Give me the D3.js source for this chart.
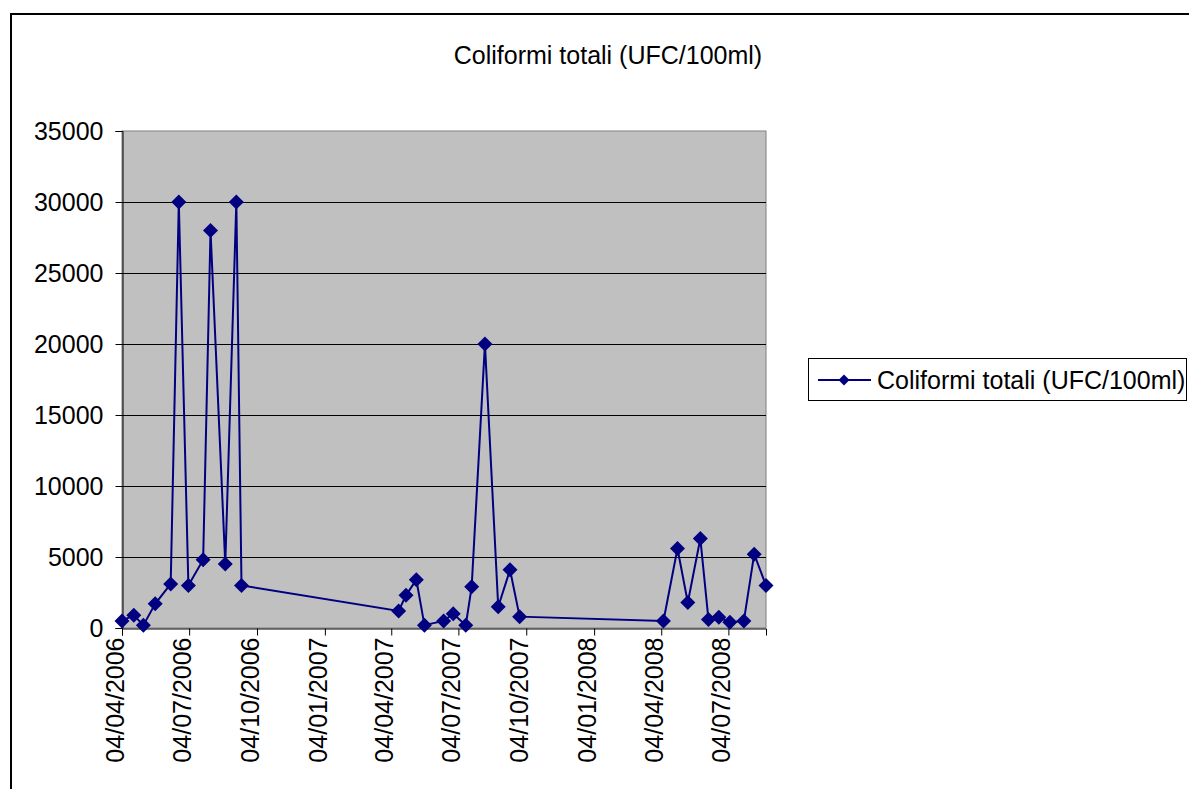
<!DOCTYPE html>
<html><head><meta charset="utf-8">
<script src="https://cdn.jsdelivr.net/npm/d3@7"></script>
<style>body{margin:0;background:#fff;} svg{display:block;font-family:"Liberation Sans",Arial,sans-serif;}</style>
</head><body>
<svg id="c" width="1189" height="789"></svg>
<script>
const seriesName = "Coliformi totali (UFC/100ml)";
const dates = ["2006-04-04","2006-04-20","2006-05-03","2006-05-19","2006-06-09","2006-06-20","2006-07-03","2006-07-23","2006-08-02","2006-08-22","2006-09-06","2006-09-13",
"2007-04-14","2007-04-24","2007-05-08","2007-05-19","2007-06-14","2007-06-27","2007-07-14","2007-07-22","2007-08-09","2007-08-27","2007-09-12","2007-09-25",
"2008-04-07","2008-04-26","2008-05-10","2008-05-27","2008-06-07","2008-06-21","2008-07-06","2008-07-25","2008-08-08","2008-08-24"];
const values = [500,900,200,1700,3100,30000,3000,4800,28000,4500,30000,3000,
1200,2300,3400,200,500,1000,200,2900,20000,1500,4100,800,
500,5600,1800,6300,600,750,400,500,5200,3000];
const xTickLabels = ["04/04/2006","04/07/2006","04/10/2006","04/01/2007","04/04/2007","04/07/2007","04/10/2007","04/01/2008","04/04/2008","04/07/2008"];
const yTicks = [0,5000,10000,15000,20000,25000,30000,35000];

const parseISO = d3.timeParse("%Y-%m-%d");
const parseTick = d3.timeParse("%d/%m/%Y");
const data = dates.map((d,i)=>({date:parseISO(d), value:values[i]}));

const svg = d3.select("#c");
const L=122, R=766, T=131, B=628;
const FS = 25;
const x = d3.scaleTime().domain(d3.extent(data,d=>d.date)).range([L,R]);
const y = d3.scaleLinear().domain([0,35000]).range([B,T]);

// outer frame
svg.append("rect").attr("x",11).attr("y",14).attr("width",1200).attr("height",800)
  .attr("fill","none").attr("stroke","#000").attr("stroke-width",2);

// plot bg
svg.append("rect").attr("x",L).attr("y",T).attr("width",R-L).attr("height",B-T)
  .attr("fill","#c0c0c0").attr("stroke","#808080").attr("stroke-width",1);

// gridlines
svg.append("g").selectAll("line").data(yTicks.filter(v=>v>0 && v<35000)).join("line")
  .attr("x1",L).attr("x2",R).attr("y1",d=>Math.round(y(d))+0.5).attr("y2",d=>Math.round(y(d))+0.5)
  .attr("stroke","#000").attr("stroke-width",1);

// y axis
const yAxis = d3.axisLeft(y).tickValues(yTicks).tickSize(7).tickPadding(12).tickFormat(d3.format("d"));
const gy = svg.append("g").attr("transform",`translate(${L+0.5},0)`).call(yAxis);
gy.select(".domain").attr("stroke","#000");
gy.selectAll("text").attr("font-size",FS).attr("fill","#000").attr("font-family","Liberation Sans, Arial, sans-serif");

// x axis
const xAxis = d3.axisBottom(x).tickValues(xTickLabels.map(parseTick)).tickSize(7).tickFormat(d3.timeFormat("%d/%m/%Y"));
const gx = svg.append("g").attr("transform",`translate(0,${B+0.5})`).call(xAxis);
gx.select(".domain").attr("stroke","#000");
gx.selectAll("text").attr("font-size",FS).attr("fill","#000").attr("font-family","Liberation Sans, Arial, sans-serif")
  .attr("text-anchor","end").attr("transform","rotate(-90)").attr("x",-9).attr("y",0).attr("dy","0.06em").attr("dx",0);

// line
const navy="#000080";
svg.append("path").datum(data).attr("fill","none").attr("stroke",navy).attr("stroke-width",2)
  .attr("d",d3.line().x(d=>x(d.date)).y(d=>y(d.value)));
const diamond = "M0,-7.5L7.5,0L0,7.5L-7.5,0Z";
svg.append("g").selectAll("path").data(data).join("path")
  .attr("transform",d=>`translate(${x(d.date)},${y(d.value)})`).attr("d",diamond).attr("fill",navy);

// title
svg.append("text").attr("x",608).attr("y",64).attr("text-anchor","middle").attr("font-size",FS).text(seriesName);

// legend
const lg = svg.append("g");
lg.append("rect").attr("x",808.5).attr("y",358.5).attr("width",378).attr("height",42).attr("fill","#fff").attr("stroke","#000").attr("stroke-width",1);
lg.append("line").attr("x1",818).attr("x2",871).attr("y1",380).attr("y2",380).attr("stroke",navy).attr("stroke-width",2);
lg.append("path").attr("transform","translate(844,380)").attr("d","M0,-5.5L5.5,0L0,5.5L-5.5,0Z").attr("fill",navy);
lg.append("text").attr("x",877).attr("y",389).attr("font-size",FS).text(seriesName);
</script>
</body></html>
